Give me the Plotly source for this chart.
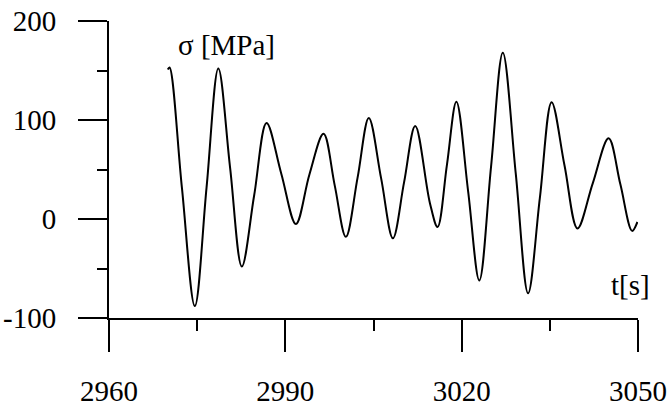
import plotly.graph_objects as go

# time [s] and stress [MPa]
t = [2970.0, 2970.3, 2972.4, 2974.6, 2976.6, 2978.6, 2980.6, 2982.6, 2984.7, 2986.8,
     2989.3, 2991.8, 2994.1, 2996.5, 2998.4, 3000.3, 3002.3, 3004.2, 3006.3, 3008.3,
     3010.2, 3012.1, 3014.6, 3015.9, 3017.5, 3019.1, 3021.1, 3023.0, 3025.0, 3027.0,
     3029.2, 3031.3, 3033.3, 3035.3, 3037.5, 3039.7, 3042.3, 3045.0, 3047.0, 3049.0,
     3049.9]
sigma = [151, 153, 32, -88, 32, 152, 52, -48, 24, 97,
         46, -5, 45, 86, 34, -18, 42, 102, 41, -19.5,
         37, 94, 16, -8, 55, 118.5, 28, -62, 53, 168,
         46, -75, 21, 118, 54, -9.5, 36, 81.5, 35, -12,
         -3]

x_ticks = [2960, 2990, 3020, 3050]
y_ticks = [-100, 0, 100, 200]

FONT = "Liberation Serif"
FS = 29

fig = go.Figure()
fig.add_trace(go.Scatter(x=t, y=sigma, mode="lines",
                         line=dict(color="black", width=2, shape="spline", smoothing=1.0),
                         showlegend=False, hoverinfo="skip"))

fig.update_layout(
    width=670, height=407,
    margin=dict(l=109, r=32, t=21, b=89, autoexpand=False),
    paper_bgcolor="white", plot_bgcolor="white",
    font=dict(family=FONT, size=FS, color="black"),
    xaxis=dict(range=[2960, 3050], tickvals=x_ticks, ticktext=[str(v) for v in x_ticks],
               automargin=False,
               showgrid=False, zeroline=False, showline=True, linecolor="black", linewidth=2,
               ticks="outside", ticklen=32, tickwidth=2, tickcolor="black",
               ticklabelstandoff=14, tickfont=dict(family=FONT, size=FS, color="black"),
               minor=dict(dtick=15, tick0=2960, ticks="outside", ticklen=11, tickwidth=2,
                          tickcolor="black", showgrid=False)),
    yaxis=dict(range=[-100, 200], tickvals=y_ticks, ticktext=[str(v) for v in y_ticks],
               automargin=False,
               showgrid=False, zeroline=False, showline=True, linecolor="black", linewidth=2,
               ticks="outside", ticklen=29, tickwidth=2, tickcolor="black",
               ticklabelstandoff=16, tickfont=dict(family=FONT, size=FS, color="black"),
               minor=dict(dtick=50, tick0=-100, ticks="outside", ticklen=10, tickwidth=2,
                          tickcolor="black", showgrid=False)),
    annotations=[
        dict(x=(226 - 109) / 529, y=(318 - 45) / 297, xref="paper", yref="paper",
             text="σ [MPa]", showarrow=False, font=dict(family=FONT, size=FS, color="black"),
             xanchor="center", yanchor="middle"),
        dict(x=(630 - 109) / 529, y=(318 - 285) / 297, xref="paper", yref="paper",
             text="t[s]", showarrow=False, font=dict(family=FONT, size=FS, color="black"),
             xanchor="center", yanchor="middle"),
    ],
)

fig.write_html("out.html")
